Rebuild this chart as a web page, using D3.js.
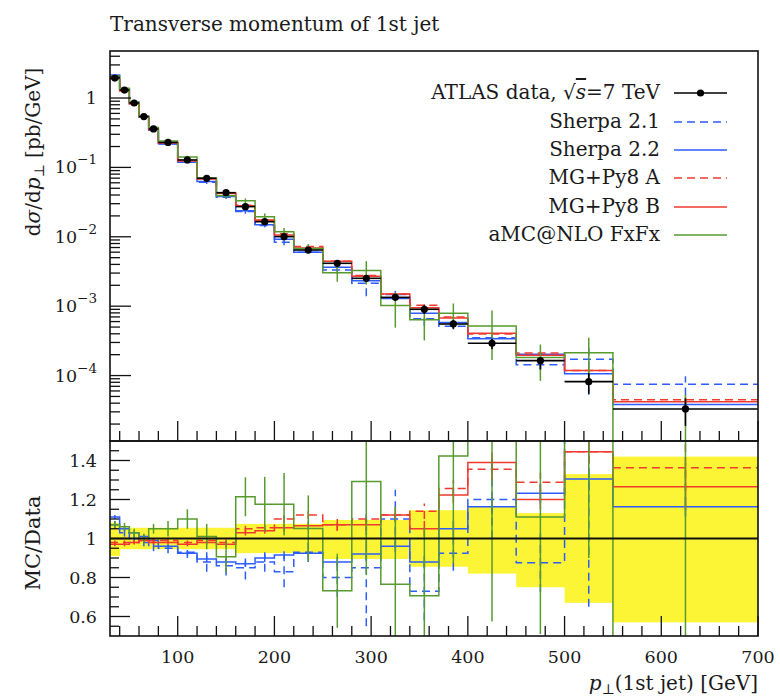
<!DOCTYPE html>
<html><head><meta charset="utf-8">
<script src="https://cdn.jsdelivr.net/npm/d3@7"></script>
<style>
body{margin:0;background:#fff}
svg text{font-family:"DejaVu Serif","Liberation Serif",serif;fill:#1a1a1a}
</style>
</head><body>
<svg id="c" width="780" height="699"></svg>
<script>
// ---------------- data ----------------
const binEdges = [30,40,50,60,70,80,100,120,140,160,180,200,220,250,280,310,340,370,400,450,500,550,700];
const dataVals = [1.94,1.30,0.847,0.541,0.358,0.229,0.128,0.0697,0.0432,0.0272,0.0165,0.01005,0.00645,0.00415,0.00252,0.00134,0.000902,0.000554,0.000292,0.000164,8.17e-5,3.30e-5];
// data uncertainty band (ratio units)
const bandLo = [0.91,0.945,0.945,0.945,0.945,0.945,0.945,0.945,0.945,0.925,0.925,0.925,0.925,0.895,0.895,0.895,0.855,0.855,0.82,0.75,0.67,0.57];
const bandHi = [1.08,1.055,1.055,1.055,1.055,1.055,1.055,1.055,1.055,1.075,1.075,1.075,1.075,1.095,1.095,1.095,1.145,1.145,1.163,1.13,1.33,1.42];
// MC / Data ratios and their uncertainties
const sherpa21 = [1.07,1.03,1.0,0.98,0.96,0.95,0.93,0.88,0.86,0.85,0.88,0.83,0.93,0.80,0.85,1.10,0.73,0.924,1.2,0.876,2.1,2.27];
const sherpa21Err = [0.02,0.02,0.02,0.02,0.025,0.025,0.03,0.05,0.05,0.06,0.05,0.08,0.05,0.1,0.3,0.15,0.15,0.09,0.2,0.15,1.45,0.7];
const sherpa22 = [1.11,1.05,1.03,1.01,0.99,0.96,0.925,0.895,0.88,0.87,0.90,0.915,0.925,0.88,0.92,0.96,0.88,1.05,1.163,1.232,1.305,1.163];
const sherpa22Err = [0.01,0.01,0.01,0.01,0.01,0.01,0.01,0.015,0.015,0.015,0.02,0.02,0.02,0.025,0.03,0.03,0.03,0.04,0.04,0.05,0.06,0.05];
const mgA = [0.98,0.98,0.98,0.99,0.99,0.99,0.98,0.99,0.98,1.05,1.055,1.10,1.12,1.07,1.10,1.12,1.14,1.257,1.355,1.288,1.445,1.363];
const mgAErr = [0.01,0.01,0.01,0.01,0.01,0.01,0.01,0.01,0.015,0.015,0.015,0.02,0.02,0.03,0.03,0.03,0.04,0.04,0.05,0.05,0.06,0.12];
const mgB = [0.97,0.97,0.98,0.99,0.98,0.98,0.97,0.98,0.97,1.03,1.04,1.055,1.065,1.07,1.07,1.12,1.05,1.223,1.39,1.20,1.445,1.266];
const mgBErr = [0.01,0.01,0.01,0.01,0.01,0.01,0.01,0.01,0.015,0.015,0.015,0.02,0.02,0.03,0.03,0.03,0.04,0.04,0.05,0.05,0.06,0.12];
const amc = [1.07,1.06,1.03,1.0,1.05,1.05,1.10,1.01,0.906,1.214,1.176,1.176,1.051,0.732,1.292,0.766,0.706,1.423,1.775,1.11,2.6,0.1];
const amcErr = [0.02,0.02,0.02,0.025,0.025,0.04,0.05,0.065,0.08,0.10,0.14,0.16,0.17,0.19,0.48,0.40,0.35,0.55,1.2,0.6,1.7,1.5];

const xMajor = [100,200,300,400,500,600,700];
const yMainMajor = [1,1e-1,1e-2,1e-3,1e-4];
const yMainLabels = ["1","−1","−2","−3","−4"];
const yRatioMajor = [0.6,0.8,1,1.2,1.4];
const yRatioLabels = ["0.6","0.8","1","1.2","1.4"];
const legendNames = ["Sherpa 2.1","Sherpa 2.2","MG+Py8 A","MG+Py8 B","aMC@NLO FxFx"];

// ---------------- layout ----------------
const L = 110, R = 758, T = 51, M = 441, B = 636;
const svg = d3.select("#c");
const x = d3.scaleLinear().domain([30,700]).range([L,R]);
const y = d3.scaleLog().domain([1.14e-5,4.76]).range([M,T]).clamp(false);
const yr = d3.scaleLinear().domain([0.5,1.5]).range([B,M]);

const BLUE="#2d5cff", RED="#f03a2e", GREEN="#579b2f", YELLOW="#fbf536";
const series = [
  {name:legendNames[0], r:sherpa21, e:sherpa21Err, color:BLUE, dash:"8,5"},
  {name:legendNames[1], r:sherpa22, e:sherpa22Err, color:BLUE, dash:null},
  {name:legendNames[2], r:mgA, e:mgAErr, color:RED, dash:"8,5"},
  {name:legendNames[3], r:mgB, e:mgBErr, color:RED, dash:null},
  {name:legendNames[4], r:amc, e:amcErr, color:GREEN, dash:null}
];
const defs = svg.append("defs");
defs.append("clipPath").attr("id","cm").append("rect").attr("x",L).attr("y",T).attr("width",R-L).attr("height",M-T);
defs.append("clipPath").attr("id","cr").append("rect").attr("x",L).attr("y",M).attr("width",R-L).attr("height",B-M);

const safeY = v => v > 0 ? y(v) : M + 2000;

function stepPath(vals, ys){
  let p = "";
  for(let i=0;i<vals.length;i++){
    const yy = ys(vals[i]);
    if(i===0) p += `M${x(binEdges[0])},${yy}`; else p += `V${yy}`;
    p += `H${x(binEdges[i+1])}`;
  }
  return p;
}

// ---------------- main panel ----------------
const gm = svg.append("g").attr("clip-path","url(#cm)");
series.forEach(s=>{
  const abs = s.r.map((r,i)=>r*dataVals[i]);
  gm.append("path").attr("d",stepPath(abs,safeY)).attr("fill","none")
    .attr("stroke",s.color).attr("stroke-width",1.5).attr("stroke-dasharray",s.dash);
  abs.forEach((v,i)=>{
    const c = x((binEdges[i]+binEdges[i+1])/2);
    const ea = s.e[i]*dataVals[i];
    gm.append("line").attr("x1",c).attr("x2",c).attr("y1",safeY(v-ea)).attr("y2",safeY(v+ea))
      .attr("stroke",s.color).attr("stroke-width",1.5).attr("stroke-dasharray",s.dash);
  });
});
dataVals.forEach((v,i)=>{
  const c = x((binEdges[i]+binEdges[i+1])/2);
  gm.append("line").attr("x1",x(binEdges[i])).attr("x2",x(binEdges[i+1])).attr("y1",y(v)).attr("y2",y(v)).attr("stroke","#000").attr("stroke-width",1.6);
  gm.append("line").attr("x1",c).attr("x2",c).attr("y1",y(v*bandLo[i])).attr("y2",y(v*bandHi[i])).attr("stroke","#000").attr("stroke-width",1.6);
  gm.append("circle").attr("cx",c).attr("cy",y(v)).attr("r",3.6).attr("fill","#000");
});

// ---------------- ratio panel ----------------
const gr = svg.append("g").attr("clip-path","url(#cr)");
dataVals.forEach((v,i)=>{
  gr.append("rect").attr("x",x(binEdges[i])).attr("width",x(binEdges[i+1])-x(binEdges[i])+0.5)
    .attr("y",yr(bandHi[i])).attr("height",yr(bandLo[i])-yr(bandHi[i])).attr("fill",YELLOW);
});
series.forEach(s=>{
  gr.append("path").attr("d",stepPath(s.r,yr)).attr("fill","none")
    .attr("stroke",s.color).attr("stroke-width",1.5).attr("stroke-dasharray",s.dash);
  s.r.forEach((v,i)=>{
    const c = x((binEdges[i]+binEdges[i+1])/2);
    gr.append("line").attr("x1",c).attr("x2",c).attr("y1",yr(v-s.e[i])).attr("y2",yr(v+s.e[i]))
      .attr("stroke",s.color).attr("stroke-width",1.5).attr("stroke-dasharray",s.dash);
  });
});
gr.append("line").attr("x1",L).attr("x2",R).attr("y1",yr(1)).attr("y2",yr(1)).attr("stroke","#111").attr("stroke-width",2);

// ---------------- frames & ticks ----------------
const axg = svg.append("g").attr("stroke","#111").attr("fill","none");
axg.append("rect").attr("x",L).attr("y",T).attr("width",R-L).attr("height",M-T).attr("stroke-width",1.6);
axg.append("rect").attr("x",L).attr("y",M).attr("width",R-L).attr("height",B-M).attr("stroke-width",1.6);
d3.range(40,701,20).forEach(g=>{
  const major = g%100===0;
  const len = major?20:10;
  [M,B].forEach(base=>{
    axg.append("line").attr("x1",x(g)).attr("x2",x(g)).attr("y1",base).attr("y2",base-len).attr("stroke-width",1.3);
  });
});
for(let d=-6; d<=1; d++){
  for(let k=1;k<=9;k++){
    const v = k*Math.pow(10,d);
    if(v<y.domain()[0]||v>y.domain()[1]) continue;
    const len = k===1?21:10;
    axg.append("line").attr("x1",L).attr("x2",L+len).attr("y1",y(v)).attr("y2",y(v)).attr("stroke-width",1.3);
  }
}
d3.range(0.55,1.5,0.05).forEach(v=>{
  const major = Math.abs(Math.round(v*5)-v*5)<1e-6;
  axg.append("line").attr("x1",L).attr("x2",L+(major?20:9)).attr("y1",yr(v)).attr("y2",yr(v)).attr("stroke-width",1.3);
});

// ---------------- labels ----------------
const txt = svg.append("g");
txt.append("text").attr("x",L).attr("y",31).attr("font-size",20).text("Transverse momentum of 1st jet");
xMajor.forEach(g=>{
  txt.append("text").attr("x",x(g)).attr("y",663).attr("text-anchor","middle").attr("font-size",17.5).text(g);
});
yMainMajor.forEach((v,i)=>{
  const t = txt.append("text").attr("x",97).attr("y",y(v)+6).attr("text-anchor","end").attr("font-size",17.5);
  if(i===0){ t.text(yMainLabels[0]); }
  else { t.append("tspan").text("10"); t.append("tspan").attr("dy",-9).attr("font-size",13.5).text(yMainLabels[i]); }
});
yRatioMajor.forEach((v,i)=>{
  txt.append("text").attr("x",97).attr("y",yr(v)+6).attr("text-anchor","end").attr("font-size",17.5).text(yRatioLabels[i]);
});
const yt = txt.append("text").attr("transform","translate(40,152) rotate(-90)").attr("text-anchor","middle").attr("font-size",20);
yt.append("tspan").text("d");
yt.append("tspan").attr("font-style","italic").text("σ");
yt.append("tspan").text("/d");
yt.append("tspan").attr("font-style","italic").text("p");
yt.append("tspan").attr("font-size",14).attr("dy",4).text("⊥");
yt.append("tspan").attr("dy",-4).text(" [pb/GeV]");
txt.append("text").attr("transform","translate(40,543) rotate(-90)").attr("text-anchor","middle").attr("font-size",21).text("MC/Data");
const xt = txt.append("text").attr("x",R).attr("y",690).attr("text-anchor","end").attr("font-size",20);
xt.append("tspan").attr("font-style","italic").text("p");
xt.append("tspan").attr("font-size",14).attr("dy",4).text("⊥");
xt.append("tspan").attr("dy",-4).text("(1st jet) [GeV]");

// ---------------- legend ----------------
const lg = svg.append("g");
const rows = [93,122,150,178,207,235];
const lt = lg.append("text").attr("x",660).attr("y",rows[0]+6).attr("text-anchor","end").attr("font-size",20);
lt.append("tspan").text("ATLAS data, √");
lt.append("tspan").attr("font-style","italic").attr("text-decoration","overline").text("s");
lt.append("tspan").text("=7 TeV");
lg.append("line").attr("x1",674).attr("x2",727).attr("y1",rows[0]).attr("y2",rows[0]).attr("stroke","#000").attr("stroke-width",1.6);
lg.append("circle").attr("cx",700.5).attr("cy",rows[0]).attr("r",3.6).attr("fill","#000");
series.forEach((s,i)=>{
  const yy = rows[i+1];
  lg.append("text").attr("x",660).attr("y",yy+6).attr("text-anchor","end").attr("font-size",20).text(s.name);
  lg.append("line").attr("x1",674).attr("x2",727).attr("y1",yy).attr("y2",yy)
    .attr("stroke",s.color).attr("stroke-width",1.5).attr("stroke-dasharray",s.dash);
});
</script>
</body></html>
